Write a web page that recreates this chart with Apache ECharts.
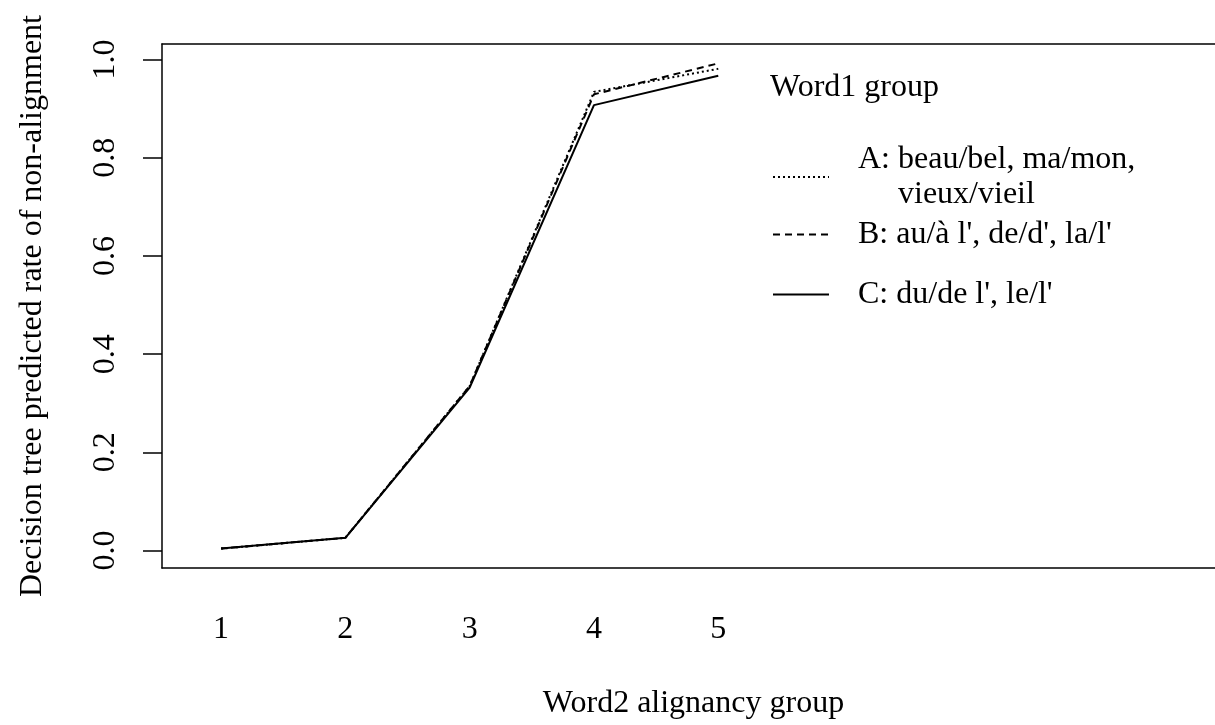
<!DOCTYPE html>
<html>
<head>
<meta charset="utf-8">
<script src="https://cdn.jsdelivr.net/npm/echarts@6/dist/echarts.min.js"></script>
<style>
  html, body { margin: 0; padding: 0; background: #fff; }
  #main { width: 1215px; height: 725px; }
</style>
</head>
<body>
<div id="main"></div>
<script>
var groups = [1, 2, 3, 4, 5];
var rateA = [0.004, 0.026, 0.335, 0.934, 0.981];
var rateB = [0.004, 0.026, 0.335, 0.929, 0.992];
var rateC = [0.004, 0.026, 0.332, 0.907, 0.967];
var yTicks = [0, 0.2, 0.4, 0.6, 0.8, 1.0];
var names = ['A: beau/bel, ma/mon,\n     vieux/vieil', "B: au/à l', de/d', la/l'", "C: du/de l', le/l'"];

var font = 'Liberation Serif';
var fs = 32;

function pairs(vals) {
  return groups.map(function (g, i) { return [g, vals[i]]; });
}

var chart = echarts.init(document.getElementById('main'), null, { renderer: 'canvas' });

// one legend block per group, so the uneven spacing of the original can be kept
function legendAt(name, top) {
  return {
    data: [{ name: name, icon: 'inherit' }],
    left: 767,
    top: top,
    orient: 'vertical',
    itemWidth: 56,
    itemHeight: 14,
    selectedMode: false,
    itemStyle: { opacity: 0 },
    textStyle: {
      fontFamily: font, fontSize: fs, color: '#000', lineHeight: 35,
      padding: [0, 0, 0, 24]
    }
  };
}

var option = {
  backgroundColor: '#fff',
  animation: false,
  title: {
    text: 'Word1 group',
    left: 765,
    top: 67,
    textStyle: { fontFamily: font, fontSize: fs, fontWeight: 'normal', color: '#000' }
  },
  legend: [
    legendAt(names[0], 137),
    legendAt(names[1], 212),
    legendAt(names[2], 272)
  ],
  grid: {
    left: 162, top: 44, right: 0, bottom: 157,
    show: false
  },
  xAxis: [{
    type: 'value',
    min: 0.525,
    max: 8.996,
    name: 'Word2 alignancy group',
    nameLocation: 'middle',
    nameGap: 120,
    nameTextStyle: { fontFamily: font, fontSize: fs, color: '#000', padding: [0, 0, 0, 10] },
    axisLine: { show: true, onZero: false, lineStyle: { color: '#000', width: 1.5 } },
    axisTick: { show: false },
    splitLine: { show: false },
    axisLabel: {
      customValues: groups,
      margin: 46,
      fontFamily: font, fontSize: fs, color: '#000'
    }
  }, {
    type: 'value',
    position: 'top',
    min: 0.525,
    max: 8.996,
    axisLine: { show: true, onZero: false, lineStyle: { color: '#000', width: 1.5 } },
    axisTick: { show: false },
    axisLabel: { show: false },
    splitLine: { show: false }
  }],
  yAxis: {
    type: 'value',
    min: -0.0355,
    max: 1.0315,
    name: 'Decision tree predicted rate of non-alignment',
    nameLocation: 'middle',
    nameRotate: 90,
    nameGap: 113,
    nameTextStyle: { fontFamily: font, fontSize: fs, color: '#000' },
    axisLine: { show: true, onZero: false, lineStyle: { color: '#000', width: 1.5 } },
    axisTick: { show: true, customValues: yTicks, length: 19, lineStyle: { color: '#000', width: 1.5 } },
    splitLine: { show: false },
    axisLabel: {
      customValues: yTicks,
      rotate: 90,
      margin: 40,
      fontFamily: font, fontSize: fs, color: '#000',
      formatter: function (v) { return v.toFixed(1); }
    }
  },
  series: [
    {
      name: names[0], type: 'line', data: pairs(rateA), symbol: 'none',
      lineStyle: { color: '#000', width: 2, type: [2, 3] }, itemStyle: { color: '#000' }
    },
    {
      name: names[1], type: 'line', data: pairs(rateB), symbol: 'none',
      lineStyle: { color: '#000', width: 2, type: [7, 5] }, itemStyle: { color: '#000' }
    },
    {
      name: names[2], type: 'line', data: pairs(rateC), symbol: 'none',
      lineStyle: { color: '#000', width: 2, type: 'solid' }, itemStyle: { color: '#000' }
    }
  ]
};

chart.setOption(option);
</script>
</body>
</html>
